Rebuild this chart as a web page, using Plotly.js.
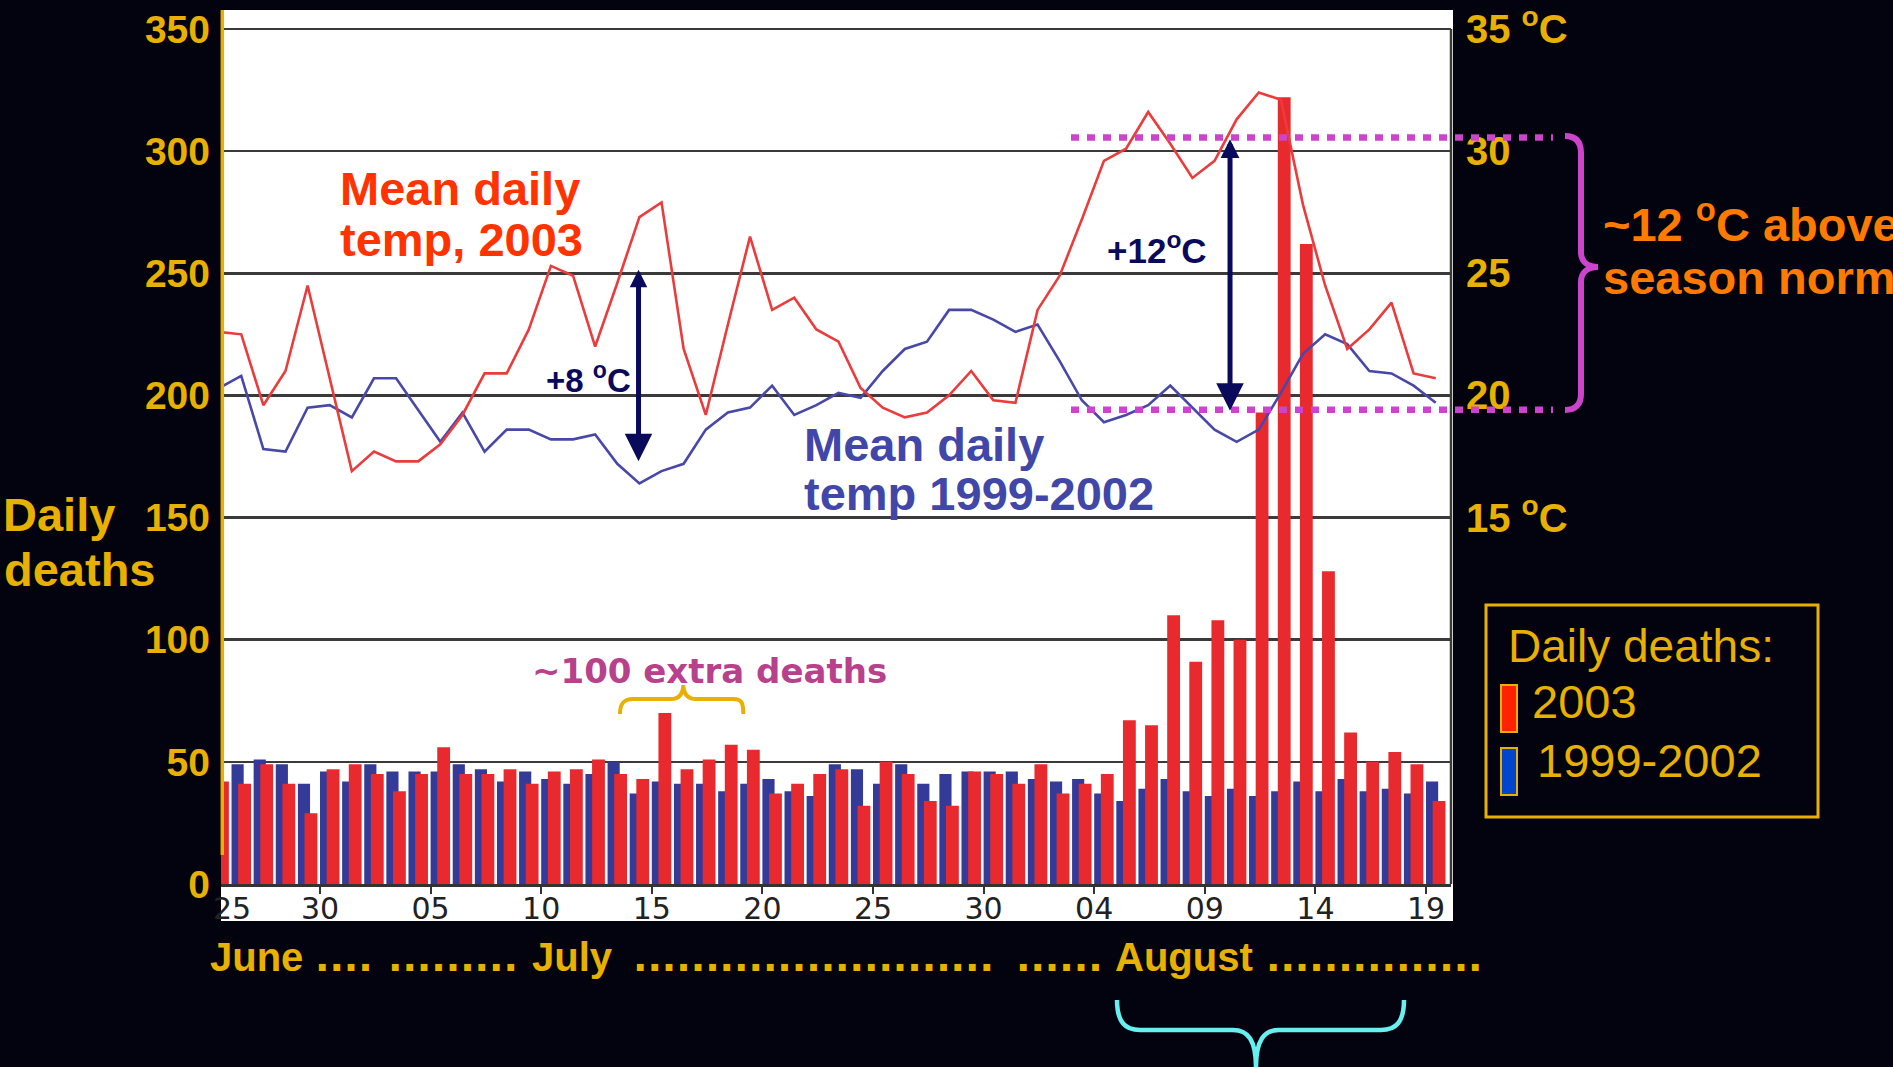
<!DOCTYPE html>
<html>
<head>
<meta charset="utf-8">
<script src="https://cdn.plot.ly/plotly-3.0.1.min.js"></script>
<style>
html,body{margin:0;padding:0;background:#03030F;overflow:hidden;}
#chart{width:1893px;height:1067px;}
</style>
</head>
<body>
<div id="chart"></div>
<script>
// ---------------- DATA ----------------
const dates = [
  '06-25','06-26','06-27','06-28','06-29','06-30',
  '07-01','07-02','07-03','07-04','07-05','07-06','07-07','07-08','07-09','07-10',
  '07-11','07-12','07-13','07-14','07-15','07-16','07-17','07-18','07-19','07-20',
  '07-21','07-22','07-23','07-24','07-25','07-26','07-27','07-28','07-29','07-30','07-31',
  '08-01','08-02','08-03','08-04','08-05','08-06','08-07','08-08','08-09','08-10',
  '08-11','08-12','08-13','08-14','08-15','08-16','08-17','08-18','08-19'
];
// Daily deaths, 2003 (red bars)
const deaths2003 = [
  42,41,49,41,29,47,49,45,38,45,56,45,45,47,41,46,47,51,45,43,
  70,47,51,57,55,37,41,45,47,32,50,45,34,32,46,45,41,49,37,41,
  45,67,65,110,91,108,100,193,322,262,128,62,50,54,49,34
];
// Daily deaths, 1999-2002 average (blue bars)
const deathsRef = [
  47,49,51,49,41,46,42,49,46,46,46,49,47,42,46,43,41,45,50,37,
  42,41,41,38,41,43,38,36,49,47,41,49,41,45,46,46,46,43,42,43,
  37,34,39,43,38,36,39,36,38,42,38,43,38,39,37,42
];
// Mean daily temperature 2003 (°C)
const temp2003 = [
  22.6,22.5,19.6,21.0,24.5,20.7,16.9,17.7,17.3,17.3,18.0,19.2,20.9,20.9,22.7,25.3,
  24.9,22.0,24.6,27.3,27.9,21.9,19.2,22.9,26.5,23.5,24.0,22.7,22.2,20.3,19.5,19.1,
  19.3,20.0,21.0,19.8,19.7,23.5,24.9,27.2,29.6,30.1,31.6,30.3,28.9,29.6,31.3,32.4,
  32.1,27.8,24.5,21.9,22.7,23.8,20.9,20.7
];
// Mean daily temperature 1999-2002 (°C)
const tempRef = [
  20.3,20.8,17.8,17.7,19.5,19.6,19.1,20.7,20.7,19.4,18.1,19.3,17.7,18.6,18.6,18.2,
  18.2,18.4,17.2,16.4,16.9,17.2,18.6,19.3,19.5,20.4,19.2,19.6,20.1,19.9,21.0,21.9,
  22.2,23.5,23.5,23.1,22.6,22.9,21.4,19.8,18.9,19.2,19.6,20.4,19.5,18.6,18.1,18.6,
  20.1,21.7,22.5,22.1,21.0,20.9,20.4,19.7
];
const tickDates = ['06-30','07-05','07-10','07-15','07-20','07-25','07-30','08-04','08-09','08-14','08-19'];
const tickText  = ['30','05','10','15','20','25','30','04','09','14','19'];
const deathTicks = [0,50,100,150,200,250,300,350];
const tempTicks = [15,20,25,30,35];
const tempTickText = ['15 <sup>o</sup>C','20','25','30','35 <sup>o</sup>C'];

// ---------------- STYLE ----------------
const GOLD = '#E8B000';
const NAVY = '#0A0A5C';
const PINK = '#CC44CC';
const FL = 'Liberation Sans, Arial, Helvetica, sans-serif';
const FD = 'DejaVu Sans, Verdana, sans-serif';

const days = dates.map((d, i) => i);
const tickVals = tickDates.map(d => dates.indexOf(d));
const lineX = days.map(d => d + 0.44);   // temperature points sit mid-day

// pixel frame of the plot area
const L = 221, R = 1451, T = 10, B = 884;
const px = x => (x - L) / (R - L);
const py = y => (B - y) / (B - T);
const ptsPath = cmds => cmds.map(c => c[0] + ' ' + c.slice(1).reduce((a, v, i) =>
  a + (i % 2 === 0 ? (i ? ' ' : '') + px(v).toFixed(5) : ',' + py(v).toFixed(5)), '')).join(' ');

function label(text, x, base, size, color, opts) {
  opts = opts || {};
  const family = opts.family || FL;
  const desc = family.indexOf('DejaVu') === 0 ? 0.236 : 0.212;
  return {
    text: text, xref: 'paper', yref: 'paper',
    x: px(x), y: py(base + desc * size),
    xanchor: opts.anchor || 'left', yanchor: 'bottom',
    showarrow: false, borderpad: 0, align: 'left',
    font: {family: family, size: size, color: color, weight: opts.weight || 'bold'}
  };
}

const traces = [
  {type: 'bar', name: '1999-2002', x: days, y: deathsRef, offset: 0, width: 0.55,
   marker: {color: '#343A98', line: {width: 0}}, hoverinfo: 'skip'},
  {type: 'bar', name: '2003', x: days, y: deaths2003, offset: 0.3, width: 0.58,
   marker: {color: '#E8292E', line: {width: 0}}, hoverinfo: 'skip'},
  {type: 'scatter', mode: 'lines', name: 'Mean daily temp 1999-2002', x: lineX, y: tempRef,
   yaxis: 'y2', line: {color: '#4848A8', width: 2.6}, hoverinfo: 'skip'},
  {type: 'scatter', mode: 'lines', name: 'Mean daily temp, 2003', x: lineX, y: temp2003,
   yaxis: 'y2', line: {color: '#EA3C3C', width: 2.6}, hoverinfo: 'skip'}
];

const shapes = [
  // white chart panel (behind everything)
  {type: 'rect', xref: 'paper', yref: 'paper', layer: 'below',
   x0: px(221), x1: px(1453), y0: py(921), y1: py(10),
   fillcolor: '#FFFFFF', line: {width: 0}},
  // gold left axis line
  {type: 'line', xref: 'paper', yref: 'paper', layer: 'above',
   x0: px(222.3), x1: px(222.3), y0: py(10), y1: py(855),
   line: {color: GOLD, width: 3.5}},
  // right frame line
  {type: 'line', xref: 'paper', yref: 'y', layer: 'below',
   x0: 1, x1: 1, y0: 0, y1: 350, line: {color: '#3A3A3A', width: 2.5}},
  // pink dotted lines
  {type: 'line', xref: 'paper', yref: 'paper', layer: 'above',
   x0: px(1071), x1: px(1553), y0: py(137.5), y1: py(137.5),
   line: {color: PINK, width: 6.5, dash: '8px,8px'}},
  {type: 'line', xref: 'paper', yref: 'paper', layer: 'above',
   x0: px(1071), x1: px(1553), y0: py(409.8), y1: py(409.8),
   line: {color: PINK, width: 6.5, dash: '8px,8px'}},
  // pink brace
  {type: 'path', xref: 'paper', yref: 'paper', layer: 'above',
   path: ptsPath([
     ['M', 1565, 136], ['C', 1576, 136, 1581, 142, 1581, 153], ['L', 1581, 252],
     ['C', 1581, 262, 1588, 267, 1598, 267], ['C', 1588, 267, 1581, 272, 1581, 282],
     ['L', 1581, 394], ['C', 1581, 404, 1576, 410, 1565, 410]
   ]), line: {color: PINK, width: 6}},
  // gold small brace under "~100 extra deaths"
  {type: 'path', xref: 'paper', yref: 'paper', layer: 'above',
   path: ptsPath([
     ['M', 620, 714], ['C', 620, 703, 624, 699, 633, 699], ['L', 671, 699],
     ['C', 679, 699, 683, 694, 683.3, 685], ['C', 683.6, 694, 688, 699, 696, 699],
     ['L', 733, 699], ['C', 742, 699, 743.3, 703, 743.3, 714]
   ]), line: {color: GOLD, width: 4}},
  // cyan brace at bottom
  {type: 'path', xref: 'paper', yref: 'paper', layer: 'above',
   path: ptsPath([
     ['M', 1117, 1000], ['C', 1117, 1022, 1125, 1030, 1140, 1030], ['L', 1233, 1030],
     ['C', 1248, 1030, 1256, 1040, 1256, 1068], ['C', 1256, 1040, 1264, 1030, 1279, 1030],
     ['L', 1381, 1030], ['C', 1396, 1030, 1404, 1022, 1404, 1000]
   ]), line: {color: '#66F0F0', width: 4.5}},
  // legend box and swatches
  {type: 'rect', xref: 'paper', yref: 'paper', layer: 'above',
   x0: px(1486), x1: px(1818), y0: py(817), y1: py(605),
   line: {color: GOLD, width: 3}, fillcolor: 'rgba(0,0,0,0)'},
  {type: 'rect', xref: 'paper', yref: 'paper', layer: 'above',
   x0: px(1501), x1: px(1517), y0: py(732), y1: py(685),
   line: {color: GOLD, width: 2}, fillcolor: '#FF2200'},
  {type: 'rect', xref: 'paper', yref: 'paper', layer: 'above',
   x0: px(1501), x1: px(1517), y0: py(795), y1: py(748),
   line: {color: GOLD, width: 2}, fillcolor: '#0046CC'}
];

const annotations = [
  label('Daily', 2, 532, 47, GOLD),
  label('deaths', 3, 587, 47, GOLD),
  label('Mean daily', 339, 206, 47, '#FF3300'),
  label('temp, 2003', 339, 257, 47, '#FF3300'),
  label('Mean daily', 803, 462, 47, '#4147A9'),
  label('temp 1999-2002', 803, 511, 47, '#4147A9'),
  label('+8 <sup>o</sup>C', 545, 393, 33, NAVY),
  label('+12<sup>o</sup>C', 1106, 264, 35, NAVY),
  label('~100 extra deaths', 531, 684, 34, '#B8418C', {family: FD}),
  label('~12 <sup>o</sup>C above', 1602, 242, 47, '#FF7A00'),
  label('season norm', 1602, 295, 47, '#FF7A00'),
  label('Daily deaths:', 1507, 663, 46, GOLD, {weight: 'normal'}),
  label('2003', 1531, 719, 47, GOLD, {weight: 'normal'}),
  label('1999-2002', 1536, 778, 47, GOLD, {weight: 'normal'}),
  label('25', 232, 920, 30, '#222222', {family: FD, anchor: 'center', weight: 'normal'}),
  label('June', 209, 972, 40, GOLD),
  label('....', 314, 972, 38, GOLD, {family: FD}),
  label('.........', 387, 972, 38, GOLD, {family: FD}),
  label('July', 531, 972, 40, GOLD),
  label('.........................', 632, 972, 38, GOLD, {family: FD}),
  label('......', 1015, 972, 38, GOLD, {family: FD}),
  label('August', 1114, 972, 40, GOLD),
  label('...............', 1265, 972, 38, GOLD, {family: FD}),
  // double-headed arrows (temperature differences)
  {x: 19.4, y: 17.3, xref: 'x', yref: 'y2', ax: 19.4, ay: 25.2, axref: 'x', ayref: 'y2',
   text: '', showarrow: true, arrowside: 'end+start', arrowhead: 2, startarrowhead: 2,
   arrowsize: 1.1, startarrowsize: 0.7, arrowwidth: 5, arrowcolor: NAVY, standoff: 0, startstandoff: 0},
  {x: 46.14, y: 19.37, xref: 'x', yref: 'y2', ax: 46.14, ay: 30.55, axref: 'x', ayref: 'y2',
   text: '', showarrow: true, arrowside: 'end+start', arrowhead: 2, startarrowhead: 2,
   arrowsize: 1.1, startarrowsize: 0.75, arrowwidth: 5, arrowcolor: NAVY, standoff: 0, startstandoff: 0}
];

const layout = {
  width: 1893, height: 1067,
  margin: {l: L, r: 1893 - R, t: T, b: 1067 - B, autoexpand: false},
  paper_bgcolor: '#03030F', plot_bgcolor: '#FFFFFF',
  barmode: 'overlay', showlegend: false, hovermode: false,
  xaxis: {
    range: [(L - 209.4) / 22.12, (R - 209.4) / 22.12],
    tickvals: tickVals, ticktext: tickText,
    showgrid: false, zeroline: false, showline: true, linecolor: '#333333', linewidth: 2.5,
    ticks: 'outside', ticklen: 7, tickwidth: 2, tickcolor: '#333333', ticklabelstandoff: -11,
    tickfont: {family: FD, size: 30, color: '#222222'}, fixedrange: true
  },
  yaxis: {
    range: [0, (B - T) / 2.443], tickvals: deathTicks,
    showgrid: true, gridcolor: '#3A3A3A', gridwidth: 2.5, zeroline: false, showline: false,
    ticks: '', ticklabelstandoff: 10,
    tickfont: {family: FL, size: 39, color: GOLD, weight: 'bold'}, fixedrange: true
  },
  yaxis2: {
    overlaying: 'y', side: 'right', range: [0, (B - T) / 24.43],
    tickvals: tempTicks, ticktext: tempTickText,
    showgrid: false, zeroline: false, showline: false, ticks: '', ticklabelstandoff: 14,
    tickfont: {family: FL, size: 40, color: GOLD, weight: 'bold'}, fixedrange: true
  },
  shapes: shapes,
  annotations: annotations
};

Plotly.newPlot('chart', traces, layout, {staticPlot: true, displayModeBar: false});
</script>
</body>
</html>
